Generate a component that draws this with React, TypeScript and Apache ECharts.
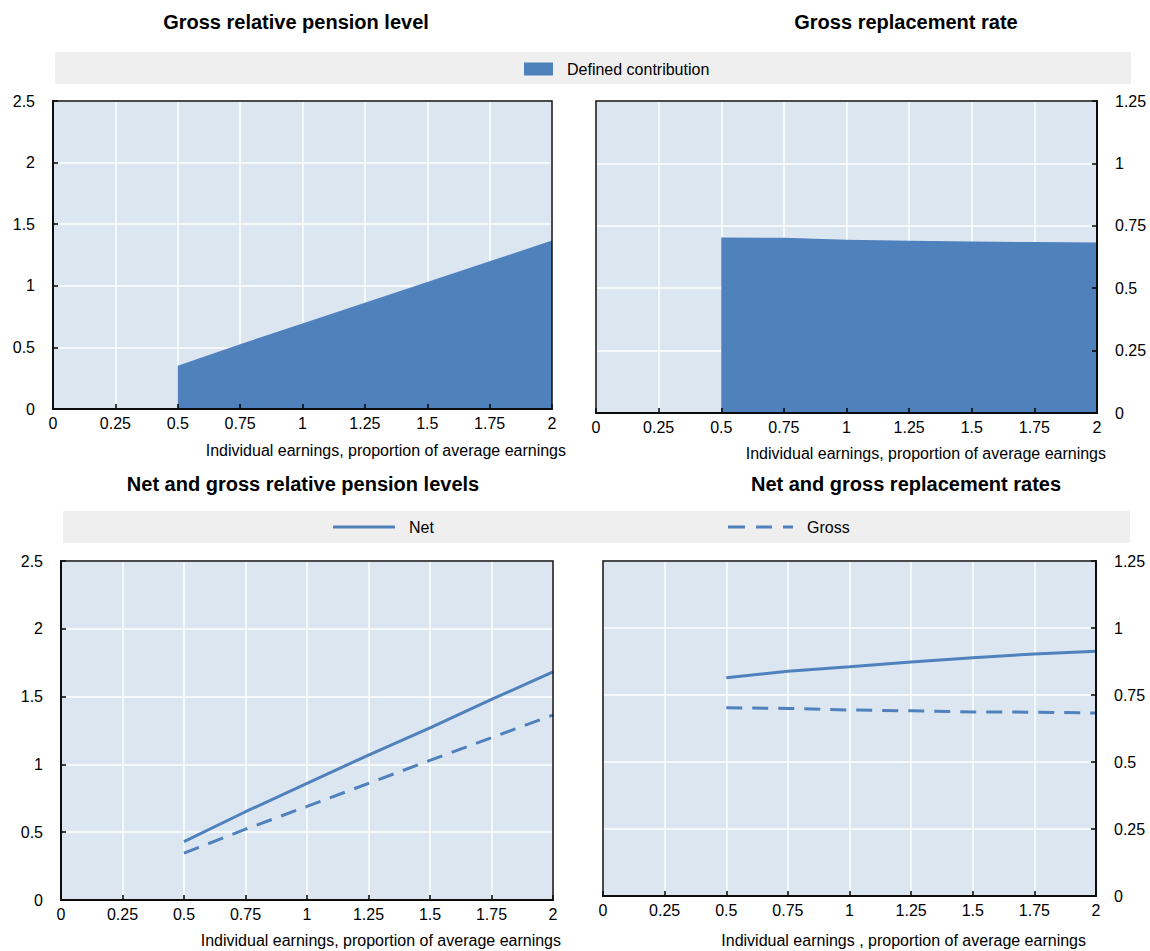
import React, { useEffect, useRef } from "react";
import * as echarts from "echarts";

// ---------- data ----------
const earnings = [0.5, 0.75, 1, 1.25, 1.5, 1.75, 2];
const grossRelativeLevel = [0.352, 0.526, 0.694, 0.863, 1.031, 1.199, 1.367];
const grossReplacementRate = [0.703, 0.702, 0.694, 0.69, 0.687, 0.685, 0.683];
const netRelativeLevels = [0.43, 0.651, 0.86, 1.069, 1.27, 1.479, 1.683];
const grossRelativeLevels = [0.345, 0.522, 0.69, 0.86, 1.03, 1.197, 1.364];
const netReplacementRates = [0.814, 0.839, 0.855, 0.873, 0.889, 0.903, 0.913];
const grossReplacementRates = [0.702, 0.7, 0.694, 0.691, 0.687, 0.686, 0.683];

const xScale = { min: 0, max: 2, interval: 0.25 };
const levelScale = { min: 0, max: 2.5, interval: 0.5 };
const rateScale = { min: 0, max: 1.25, interval: 0.25 };

const titles = [
  "Gross relative pension level",
  "Gross replacement rate",
  "Net and gross relative pension levels",
  "Net and gross replacement rates",
];
const axisNames = [
  "Individual earnings, proportion of average earnings",
  "Individual earnings, proportion of average earnings",
  "Individual earnings, proportion of average earnings",
  "Individual earnings , proportion of average earnings",
];
const legendDC = "Defined contribution";
const legendNet = "Net";
const legendGross = "Gross";

// ---------- style / layout ----------
const FONT = "Liberation Sans, Arial, sans-serif";
const BLUE = "#4f81bd";
const PLOT_BG = "#dce6f1";
const BAND = "#efefef";
const SOLID_ICON = "path://M0,0h62v3h-62z";
const DASH_ICON = "path://M0,0h17v3h-17z M28,0h16v3h-16z M55,0h10v3h-10z";

const grids = [
  { left: 53, top: 101, width: 499, height: 308 },
  { left: 596, top: 101, width: 501, height: 312 },
  { left: 61, top: 561, width: 492, height: 339 },
  { left: 603, top: 561, width: 493, height: 335 },
];
const yPos = ["left", "right", "left", "right"];
const yScales = [levelScale, rateScale, levelScale, rateScale];
const titlePos = [
  [296, 22],
  [906, 22],
  [303, 484],
  [906, 484],
];
const namePos = [
  [566, 450],
  [1106, 453],
  [561, 940],
  [1086, 940],
];

const pairs = (ys: number[]) => earnings.map((x, i) => [x, ys[i]]);

export default function App() {
  const ref = useRef<HTMLDivElement>(null);
  useEffect(() => {
    if (!ref.current) return;
    const chart = echarts.init(ref.current, undefined, { renderer: "svg" });

    const xAxis: any[] = [];
    const yAxis: any[] = [];
    grids.forEach((g, i) => {
      // gridline axes (below series)
      xAxis.push({
        type: "value",
        gridIndex: i,
        position: "bottom",
        ...xScale,
        z: 0,
        axisLine: { show: false },
        axisTick: { show: false },
        axisLabel: { show: false },
        splitLine: { show: true, lineStyle: { color: "#ffffff", width: 1.5 } },
      });
      xAxis.push({
        type: "value",
        gridIndex: i,
        position: "bottom",
        ...xScale,
        z: 10,
        axisLine: { show: true, onZero: false, lineStyle: { color: "#000", width: 2 } },
        axisTick: { show: true, inside: true, length: 5, lineStyle: { color: "#000", width: 1.5 } },
        axisLabel: { show: true, fontSize: 16, color: "#000", fontFamily: FONT, margin: 6 },
        splitLine: { show: false },
      });
      yAxis.push({
        type: "value",
        gridIndex: i,
        ...yScales[i],
        position: yPos[i],
        z: 0,
        axisLine: { show: false },
        axisTick: { show: false },
        axisLabel: { show: false },
        splitLine: { show: true, lineStyle: { color: "#ffffff", width: 1.5 } },
      });
      yAxis.push({
        type: "value",
        gridIndex: i,
        ...yScales[i],
        position: yPos[i],
        z: 10,
        axisLine: { show: true, onZero: false, lineStyle: { color: "#000", width: 2 } },
        axisTick: { show: true, inside: true, length: 5, lineStyle: { color: "#000", width: 1.5 } },
        axisLabel: { show: true, fontSize: 16, color: "#000", fontFamily: FONT, margin: 18 },
        splitLine: { show: false },
      });
    });

    const graphic: any[] = [
      { type: "rect", shape: { x: 55, y: 52, width: 1076, height: 32 }, style: { fill: BAND }, z: -10, silent: true },
      { type: "rect", shape: { x: 63, y: 511, width: 1067, height: 32 }, style: { fill: BAND }, z: -10, silent: true },
    ];
    titles.forEach((t, i) => {
      graphic.push({
        type: "text",
        x: titlePos[i][0],
        y: titlePos[i][1],
        style: {
          text: t,
          font: `bold 20px ${FONT}`,
          fill: "#000",
          textAlign: "center",
          textVerticalAlign: "middle",
        },
      });
    });
    axisNames.forEach((t, i) => {
      graphic.push({
        type: "text",
        x: namePos[i][0],
        y: namePos[i][1],
        style: {
          text: t,
          font: `16px ${FONT}`,
          fill: "#000",
          textAlign: "right",
          textVerticalAlign: "middle",
        },
      });
    });
    grids.forEach((g) => {
      graphic.push({
        type: "rect",
        shape: { x: g.left, y: g.top, width: g.width, height: g.height },
        style: { fill: "none", stroke: "#111", lineWidth: 1.5 },
        z: 100,
        silent: true,
      });
    });

    const lineBase = {
      type: "line",
      symbol: "none",
      showSymbol: false,
      z: 3,
    };

    const legendText = { fontSize: 16, color: "#000", fontFamily: FONT, padding: [0, 0, 0, 9] };

    const option: any = {
      animation: false,
      backgroundColor: "#ffffff",
      textStyle: { fontFamily: FONT },
      grid: grids.map((g) => ({
        ...g,
        show: true,
        backgroundColor: PLOT_BG,
        borderWidth: 0,
        containLabel: false,
        outerBoundsMode: "none",
      })),
      xAxis,
      yAxis,
      legend: [
        {
          data: [{ name: legendDC, icon: "rect" }],
          left: 524,
          top: 61,
          padding: 0,
          itemWidth: 29,
          itemHeight: 13,
          selectedMode: false,
          textStyle: legendText,
        },
        {
          data: [{ name: legendNet, icon: SOLID_ICON }],
          left: 333,
          top: 519,
          padding: 0,
          itemWidth: 62,
          itemHeight: 3,
          selectedMode: false,
          itemStyle: { color: BLUE },
          textStyle: legendText,
        },
        {
          data: [{ name: legendGross, icon: DASH_ICON }],
          left: 728,
          top: 519,
          padding: 0,
          itemWidth: 65,
          itemHeight: 3,
          selectedMode: false,
          itemStyle: { color: BLUE },
          textStyle: legendText,
        },
      ],
      graphic,
      series: [
        {
          ...lineBase,
          name: legendDC,
          xAxisIndex: 1,
          yAxisIndex: 1,
          data: pairs(grossRelativeLevel),
          lineStyle: { width: 0, color: BLUE },
          itemStyle: { color: BLUE },
          areaStyle: { color: BLUE, opacity: 1 },
        },
        {
          ...lineBase,
          name: legendDC,
          xAxisIndex: 3,
          yAxisIndex: 3,
          data: pairs(grossReplacementRate),
          lineStyle: { width: 0, color: BLUE },
          itemStyle: { color: BLUE },
          areaStyle: { color: BLUE, opacity: 1 },
        },
        {
          ...lineBase,
          name: legendNet,
          xAxisIndex: 5,
          yAxisIndex: 5,
          data: pairs(netRelativeLevels),
          lineStyle: { width: 3, color: BLUE, type: "solid" },
          itemStyle: { color: BLUE },
        },
        {
          ...lineBase,
          name: legendGross,
          xAxisIndex: 5,
          yAxisIndex: 5,
          data: pairs(grossRelativeLevels),
          lineStyle: { width: 3, color: BLUE, type: [16, 10] },
          itemStyle: { color: BLUE },
        },
        {
          ...lineBase,
          name: legendNet,
          xAxisIndex: 7,
          yAxisIndex: 7,
          data: pairs(netReplacementRates),
          lineStyle: { width: 3, color: BLUE, type: "solid" },
          itemStyle: { color: BLUE },
        },
        {
          ...lineBase,
          name: legendGross,
          xAxisIndex: 7,
          yAxisIndex: 7,
          data: pairs(grossReplacementRates),
          lineStyle: { width: 3, color: BLUE, type: [16, 10] },
          itemStyle: { color: BLUE },
        },
      ],
    };
    chart.setOption(option);
    return () => chart.dispose();
  }, []);

  return (
    <div
      ref={ref}
      style={{ position: "fixed", left: 0, top: 0, width: 1150, height: 951, background: "#fff" }}
    />
  );
}
